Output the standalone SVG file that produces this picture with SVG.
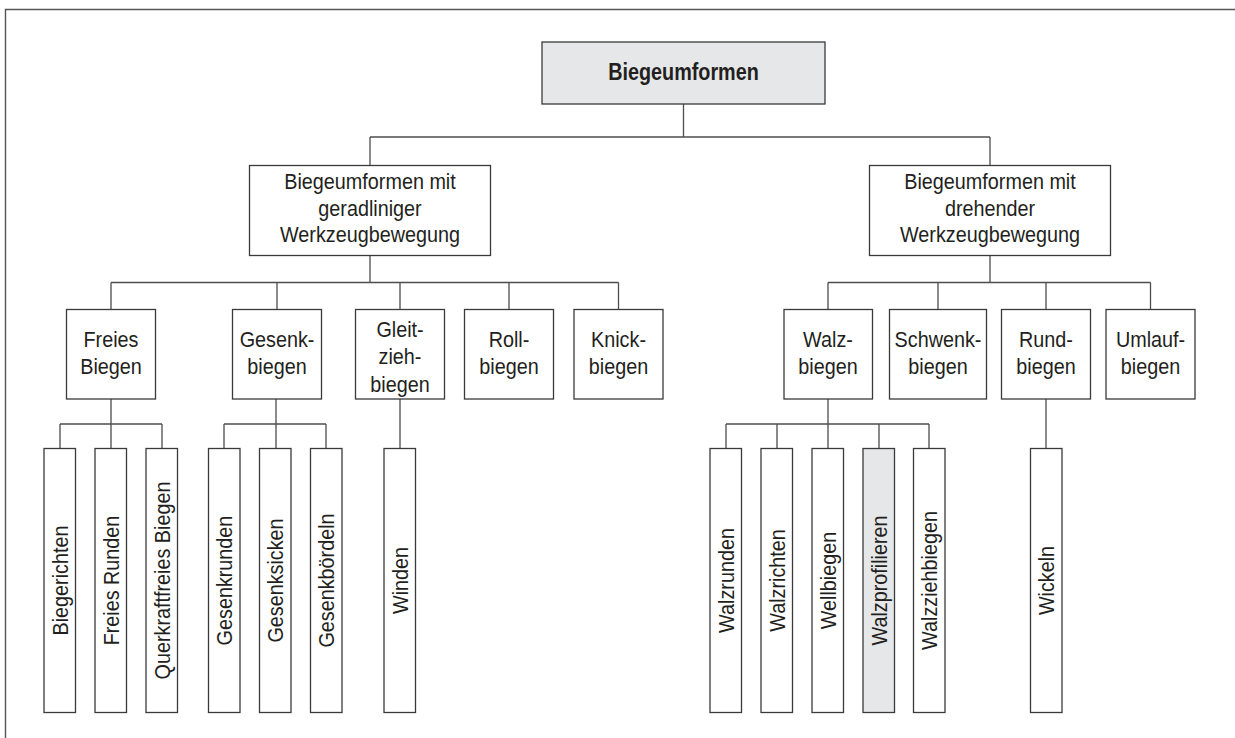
<svg xmlns="http://www.w3.org/2000/svg" width="1235" height="738" viewBox="0 0 1235 738">
<style>
.frame{fill:none;stroke:#555;stroke-width:1.4}
.box{fill:#fff;stroke:#3a3a3a;stroke-width:1.3}
.hl{fill:#e6e7e8}
.ln{fill:none;stroke:#4d4d4d;stroke-width:1.3}
text{font-family:"Liberation Sans",Arial,sans-serif;font-size:22px;fill:#231f20;text-anchor:middle}
.b{font-weight:bold;font-size:23px}
</style>
<path class="frame" d="M5.5 738V9.5H1235"/>
<g id="connectors">
<path class="ln" d="M683.5 104V137M370 137H990M370 137V165.5M990 137V165.5"/>
<path class="ln" d="M370 255.5V282.5M111 282.5H618.5M111 282.5V309.5M277 282.5V309.5M400 282.5V309.5M509 282.5V309.5M618.5 282.5V309.5"/>
<path class="ln" d="M990 255.5V282.5M828 282.5H1150.5M828 282.5V309.5M938 282.5V309.5M1046 282.5V309.5M1150.5 282.5V309.5"/>
<path class="ln" d="M111 399V448.5M60 424H162M60 424V448.5M162 424V448.5"/>
<path class="ln" d="M276 399V448.5M224 424H326M224 424V448.5M326 424V448.5"/>
<path class="ln" d="M400 399V448.5"/>
<path class="ln" d="M828 399V448.5M726 424H929M726 424V448.5M777 424V448.5M879 424V448.5M929 424V448.5"/>
<path class="ln" d="M1046 399V448.5"/>
</g>
<g id="n-root"><rect class="box hl" x="542" y="42" width="283" height="62"/><text class="b" transform="translate(683.5,80) scale(0.86,1)">Biegeumformen</text></g>
<g id="n-geradlinig"><rect class="box" x="249.5" y="165.5" width="241" height="90"/>
<g transform="translate(370,0) scale(0.9,1)"><text y="189.5">Biegeumformen mit</text><text y="216">geradliniger</text><text y="242.5">Werkzeugbewegung</text></g></g>
<g id="n-drehend"><rect class="box" x="869.5" y="165.5" width="241" height="90"/>
<g transform="translate(990,0) scale(0.9,1)"><text y="189.5">Biegeumformen mit</text><text y="216">drehender</text><text y="242.5">Werkzeugbewegung</text></g></g>
<g id="n-freies"><rect class="box" x="66.5" y="309.5" width="89" height="89.5"/><g transform="translate(111,0) scale(0.9,1)"><text y="347">Freies</text><text y="374">Biegen</text></g></g>
<g id="n-gesenk"><rect class="box" x="232.5" y="309.5" width="89" height="89.5"/><g transform="translate(277,0) scale(0.9,1)"><text y="347">Gesenk-</text><text y="374">biegen</text></g></g>
<g id="n-gleit"><rect class="box" x="355.5" y="309.5" width="89" height="89.5"/><g transform="translate(400,0) scale(0.9,1)"><text y="337">Gleit-</text><text y="364.5">zieh-</text><text y="392">biegen</text></g></g>
<g id="n-roll"><rect class="box" x="464.5" y="309.5" width="89" height="89.5"/><g transform="translate(509,0) scale(0.9,1)"><text y="347">Roll-</text><text y="374">biegen</text></g></g>
<g id="n-knick"><rect class="box" x="574" y="309.5" width="89" height="89.5"/><g transform="translate(618.5,0) scale(0.9,1)"><text y="347">Knick-</text><text y="374">biegen</text></g></g>
<g id="n-walz"><rect class="box" x="784" y="309.5" width="88.5" height="89.5"/><g transform="translate(828,0) scale(0.9,1)"><text y="347">Walz-</text><text y="374">biegen</text></g></g>
<g id="n-schwenk"><rect class="box" x="889.5" y="309.5" width="97" height="89.5"/><g transform="translate(938,0) scale(0.9,1)"><text y="347">Schwenk-</text><text y="374">biegen</text></g></g>
<g id="n-rund"><rect class="box" x="1001.5" y="309.5" width="89" height="89.5"/><g transform="translate(1046,0) scale(0.9,1)"><text y="347">Rund-</text><text y="374">biegen</text></g></g>
<g id="n-umlauf"><rect class="box" x="1106" y="309.5" width="89" height="89.5"/><g transform="translate(1150.5,0) scale(0.9,1)"><text y="347">Umlauf-</text><text y="374">biegen</text></g></g>
<g id="n-biegerichten"><rect class="box" x="44" y="448.5" width="31.5" height="264"/><text transform="translate(59.75,580.5) rotate(-90) scale(0.9,1)" y="7.8">Biegerichten</text></g>
<g id="n-freiesrunden"><rect class="box" x="95" y="448.5" width="31.5" height="264"/><text transform="translate(110.75,580.5) rotate(-90) scale(0.9,1)" y="7.8">Freies Runden</text></g>
<g id="n-querkraft"><rect class="box" x="146" y="448.5" width="31.5" height="264"/><text transform="translate(161.75,580.5) rotate(-90) scale(0.9,1)" y="7.8">Querkraftfreies Biegen</text></g>
<g id="n-gesenkrunden"><rect class="box" x="208.5" y="448.5" width="31.5" height="264"/><text transform="translate(224.25,580.5) rotate(-90) scale(0.9,1)" y="7.8">Gesenkrunden</text></g>
<g id="n-gesenksicken"><rect class="box" x="259.5" y="448.5" width="31.5" height="264"/><text transform="translate(275.25,580.5) rotate(-90) scale(0.9,1)" y="7.8">Gesenksicken</text></g>
<g id="n-gesenkboerdeln"><rect class="box" x="310.5" y="448.5" width="31.5" height="264"/><text transform="translate(326.25,580.5) rotate(-90) scale(0.9,1)" y="7.8">Gesenkbördeln</text></g>
<g id="n-winden"><rect class="box" x="384" y="448.5" width="31.5" height="264"/><text transform="translate(399.75,580.5) rotate(-90) scale(0.9,1)" y="7.8">Winden</text></g>
<g id="n-walzrunden"><rect class="box" x="710" y="448.5" width="31.5" height="264"/><text transform="translate(725.75,580.5) rotate(-90) scale(0.9,1)" y="7.8">Walzrunden</text></g>
<g id="n-walzrichten"><rect class="box" x="761" y="448.5" width="31.5" height="264"/><text transform="translate(776.75,580.5) rotate(-90) scale(0.9,1)" y="7.8">Walzrichten</text></g>
<g id="n-wellbiegen"><rect class="box" x="812" y="448.5" width="31.5" height="264"/><text transform="translate(827.75,580.5) rotate(-90) scale(0.9,1)" y="7.8">Wellbiegen</text></g>
<g id="n-walzprofilieren"><rect class="box hl" x="863" y="448.5" width="31.5" height="264"/><text transform="translate(878.75,580.5) rotate(-90) scale(0.9,1)" y="7.8">Walzprofilieren</text></g>
<g id="n-walzziehbiegen"><rect class="box" x="913.5" y="448.5" width="31.5" height="264"/><text transform="translate(929.25,580.5) rotate(-90) scale(0.9,1)" y="7.8">Walzziehbiegen</text></g>
<g id="n-wickeln"><rect class="box" x="1030.5" y="448.5" width="31.5" height="264"/><text transform="translate(1046.25,580.5) rotate(-90) scale(0.9,1)" y="7.8">Wickeln</text></g>
</svg>
